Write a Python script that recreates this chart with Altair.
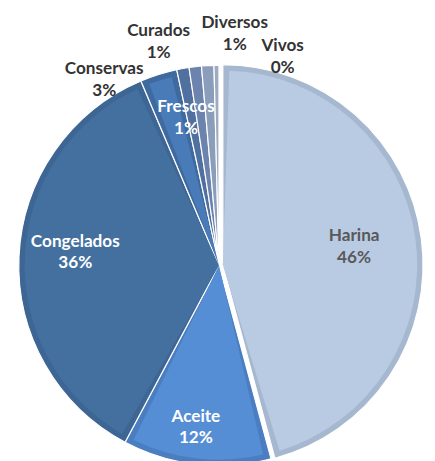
import altair as alt
import pandas as pd

# ---- data ----
categories = ["Harina", "Aceite", "Congelados", "Conservas", "Frescos", "Curados", "Diversos", "Vivos"]
values = [46, 12, 36, 3, 1, 1, 1, 0.4]

# ---- styles ----
fill_colors = ["#b9cbe3", "#558ed5", "#44709f", "#4a7bb9", "#5b7eb1", "#7890b9", "#95a8c6", "#aab7cb"]
border_colors = ["#a6b8d0", "#4a7ec0", "#3e6694", "#3f6aa0", "#50719f", "#6c84ad", "#8a9dbb", "#9eacc2"]
label_colors = ["#595959", "white", "white", "#333333", "white", "#333333", "#333333", "#333333"]

# label layout: angle (deg, clockwise from 12 o'clock) and distance from centre (px)
label_angle = [82.2, 188.1, 275.1, 328.2, 347.4, 344.9, 3.9, 17.0]
label_radius = [139, 167, 147, 222, 154, 236, 236, 222]

CX, CY = 215, 258     # pie centre in chart coordinates
R = 204               # pie radius
BORDER = 6            # slice border width
EXPLODE = 4           # Harina offset

df = pd.DataFrame({
    "cat": categories,
    "value": values,
    "order": list(range(len(categories))),
    "fillc": fill_colors,
    "borderc": border_colors,
    "textc": label_colors,
    "la": label_angle,
    "lr": label_radius,
})

base = (
    alt.Chart(df)
    .transform_window(cum="sum(value)", sort=[alt.SortField("order")], frame=[None, 0])
    .transform_joinaggregate(total="sum(value)")
    .transform_calculate(
        a0="2*PI*(datum.cum - datum.value)/datum.total",
        a1="2*PI*datum.cum/datum.total",
        ex=f"datum.cat == 'Harina' ? {EXPLODE} : 0",
    )
    .transform_calculate(
        px=f"{CX} + datum.ex*sin((datum.a0 + datum.a1)/2)",
        py=f"{CY} - datum.ex*cos((datum.a0 + datum.a1)/2)",
    )
)

enc = dict(
    theta=alt.Theta("a0:Q", scale=None),
    theta2="a1:Q",
    x=alt.X("px:Q", scale=None),
    y=alt.Y("py:Q", scale=None),
)

outer = base.mark_arc(radius=R, stroke="white", strokeWidth=1.2).encode(
    fill=alt.Fill("borderc:N", scale=None), **enc
)
inner = base.mark_arc(radius=R - BORDER, padAngle=2 * (BORDER + 0.6) / (R - BORDER)).encode(
    fill=alt.Fill("fillc:N", scale=None), **enc
)

labels = (
    base.transform_calculate(
        pct="100*datum.value/datum.total",
        tx=f"{CX} + datum.lr*sin(datum.la*PI/180)",
        ty=f"{CY} - datum.lr*cos(datum.la*PI/180)",
    )
    .transform_calculate(lbl="datum.cat + '\\n' + format(datum.pct, '.0f') + '%'")
    .mark_text(font="Lato", fontWeight="bold", fontSize=17.5, lineBreak="\n",
               lineHeight=22, align="center", baseline="middle", dy=-11)
    .encode(
        x=alt.X("tx:Q", scale=None),
        y=alt.Y("ty:Q", scale=None),
        text="lbl:N",
        fill=alt.Fill("textc:N", scale=None),
    )
)

chart = (
    alt.layer(outer, inner, labels)
    .properties(width=427, height=453, autosize="none", padding=0)
    .configure_view(stroke=None)
)

chart.save("out.html", embed_options={"renderer": "svg", "actions": False})
